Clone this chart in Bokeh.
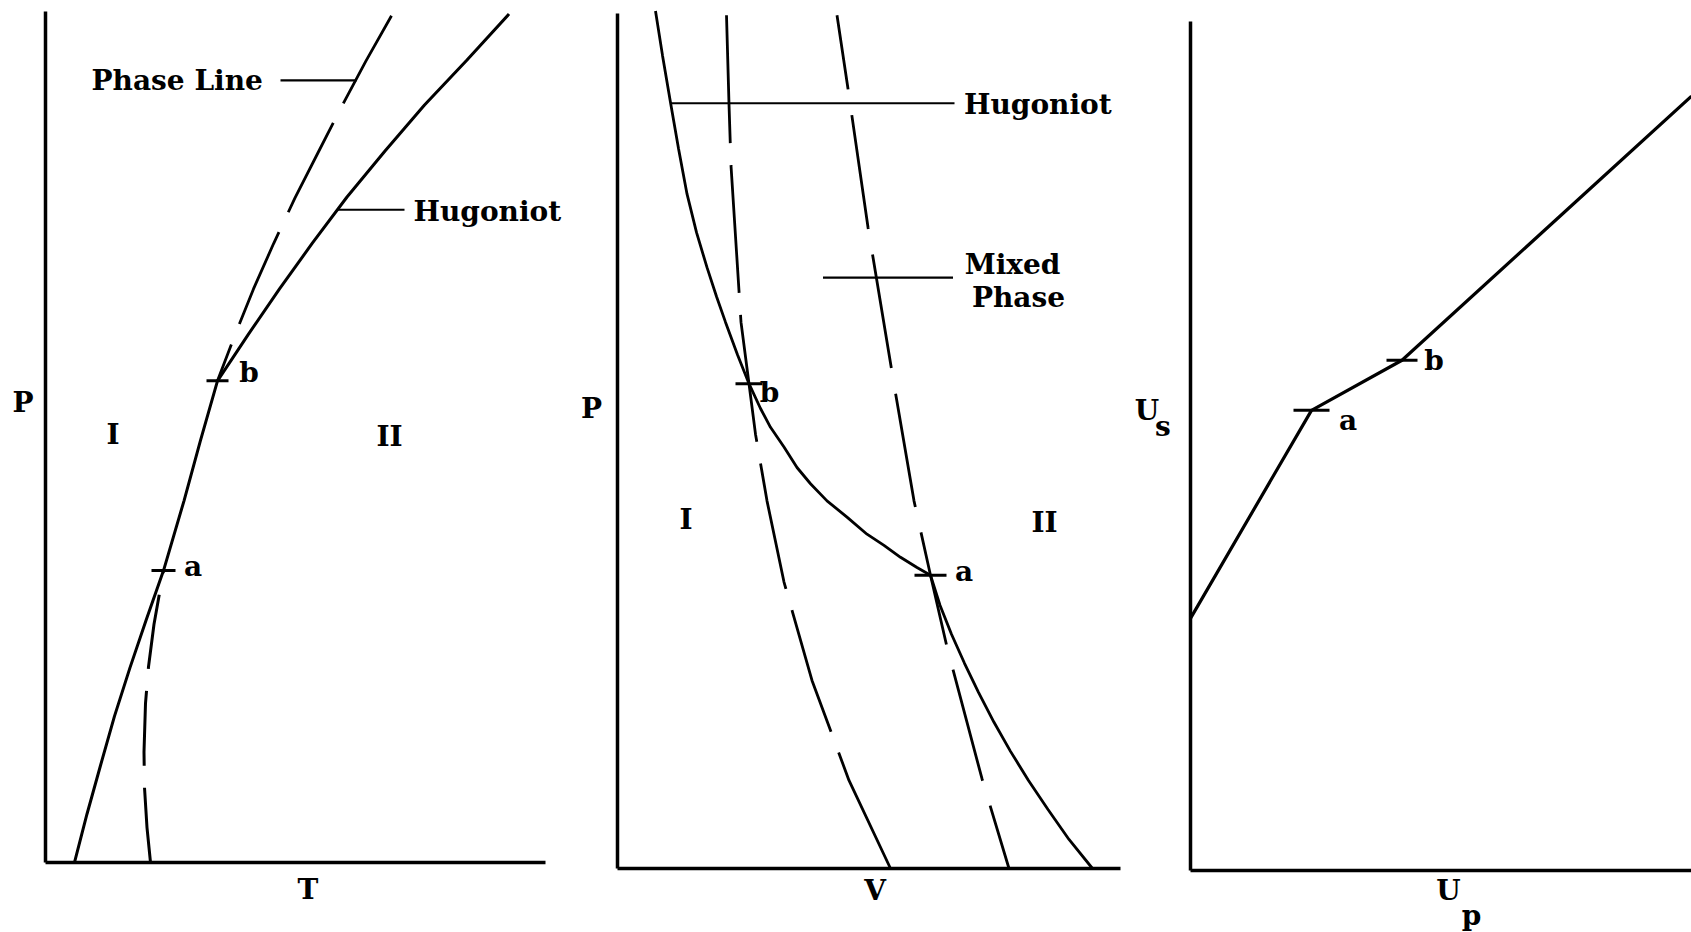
from bokeh.plotting import figure
from bokeh.layouts import row
from bokeh.models import Range1d, FixedTicker, Label
from bokeh.embed import file_html
from bokeh.resources import INLINE

# ---------------- P-T plane ----------------
pt_hugoniot_T = [0.58, 0.83, 1.10, 1.38, 1.69, 2.02, 2.36, 2.77, 3.10, 3.44,
                 4.05, 4.68, 5.34, 6.03, 6.79, 7.58, 8.43, 9.27]
pt_hugoniot_P = [0.00, 0.57, 1.14, 1.72, 2.29, 2.86, 3.43, 4.25, 4.96, 5.66,
                 6.20, 6.74, 7.28, 7.82, 8.36, 8.90, 9.43, 9.97]
# phase line below point a and above point b (between a and b it follows the Hugoniot)
pt_phase_low_T = [2.10, 2.03, 1.98, 1.97, 2.00, 2.06, 2.17, 2.36]
pt_phase_low_P = [0.00, 0.41, 0.88, 1.30, 1.87, 2.30, 2.80, 3.43]
pt_phase_high_T = [3.44, 3.79, 4.16, 4.56, 4.99, 5.45, 5.92, 6.41, 6.92]
pt_phase_high_P = [5.66, 6.20, 6.74, 7.27, 7.81, 8.34, 8.88, 9.42, 9.95]
pt_a = (2.36, 3.43)
pt_b = (3.44, 5.66)

# ---------------- P-V plane ----------------
pv_hugoniot_V = [0.76, 0.90, 1.06, 1.22, 1.39, 1.58, 1.79, 1.98, 2.16, 2.40, 2.63,
                 2.86, 3.06, 3.33, 3.59, 3.86, 4.19, 4.59, 4.99, 5.33, 5.66, 5.99, 6.26,
                 6.45, 6.68, 6.94, 7.22, 7.53, 7.86, 8.22, 8.61, 9.03, 9.50]
pv_hugoniot_P = [10.03, 9.51, 8.96, 8.42, 7.89, 7.44, 7.03, 6.69, 6.39, 6.01, 5.67,
                 5.38, 5.16, 4.93, 4.69, 4.50, 4.30, 4.11, 3.91, 3.78, 3.64, 3.52, 3.43,
                 3.08, 2.74, 2.40, 2.06, 1.71, 1.37, 1.03, 0.69, 0.34, 0.00]
pv_bound1_V = [2.18, 2.23, 2.27, 2.47, 2.63, 2.76, 2.99, 3.33, 3.89, 4.63, 5.46]
pv_bound1_P = [9.98, 8.94, 8.22, 6.39, 5.67, 5.08, 4.30, 3.35, 2.20, 1.03, 0.00]
pv_bound2_V = [4.39, 4.61, 5.01, 5.54, 5.93, 6.26, 6.59, 7.29, 7.83]
pv_bound2_P = [9.98, 9.12, 7.50, 5.63, 4.30, 3.43, 2.59, 1.05, 0.00]
pv_a = (6.26, 3.43)
pv_b = (2.63, 5.67)

# ---------------- Us-Up plane ----------------
up_values = [0.00, 2.42, 4.23, 10.02]
us_values = [2.97, 5.42, 6.01, 9.12]
us_a = (2.42, 5.42)
us_b = (4.23, 6.01)

FONT = "DejaVu Serif"
INK = "black"
SIZE = 28


def panel(width, xr, yr, x_end, y_end):
    p = figure(width=width, height=932, x_range=Range1d(*xr), y_range=Range1d(*yr),
               output_backend="svg", toolbar_location=None,
               min_border_left=0, min_border_right=0,
               min_border_top=0, min_border_bottom=0)
    p.grid.visible = False
    p.outline_line_color = None
    p.background_fill_color = "white"
    p.border_fill_color = "white"
    for ax in p.axis:
        ax.fixed_location = 0
        ax.ticker = FixedTicker(ticks=[])
        ax.major_tick_line_color = None
        ax.minor_tick_line_color = None
        ax.major_tick_out = 0
        ax.major_tick_in = 0
        ax.minor_tick_out = 0
        ax.minor_tick_in = 0
        ax.major_label_text_font_size = "0px"
        ax.major_label_standoff = 0
        ax.axis_line_width = 3.5
        ax.axis_line_color = INK
    p.xaxis.bounds = (0, x_end)
    p.yaxis.bounds = (0, y_end)
    return p


def txt(p, x, y, s, size=SIZE, align="center"):
    p.add_layout(Label(x=x, y=y, text=s, text_font=FONT, text_font_style="bold",
                       text_font_size=f"{size}px", text_align=align,
                       text_baseline="middle", text_color=INK))


def tick(p, pt, half):
    p.segment(x0=[pt[0] - half], y0=[pt[1]], x1=[pt[0] + half], y1=[pt[1]],
              line_color=INK, line_width=3)


# P-T
p1 = panel(580, (-0.90, 10.70), (-0.8226, 10.129), 10.0, 10.0)
p1.line(pt_hugoniot_T, pt_hugoniot_P, line_color=INK, line_width=3)
p1.line(pt_phase_low_T, pt_phase_low_P, line_color=INK, line_width=3, line_dash="75 22")
p1.line(pt_phase_high_T[::-1], pt_phase_high_P[::-1], line_color=INK, line_width=2.8,
        line_dash="100 22")
tick(p1, pt_a, 0.24)
tick(p1, pt_b, 0.22)
p1.segment(x0=[4.70, 5.84], y0=[9.19, 7.67], x1=[6.22, 7.18], y1=[9.19, 7.67],
           line_color=INK, line_width=2.2)
txt(p1, 0.92, 9.19, "Phase Line", align="left")
txt(p1, 7.36, 7.65, "Hugoniot", align="left")
txt(p1, 2.95, 3.48, "a")
txt(p1, 4.07, 5.76, "b")
txt(p1, 1.35, 5.03, "I")
txt(p1, 6.88, 5.01, "II")
txt(p1, -0.45, 5.41, "P")
txt(p1, 5.25, -0.32, "T")

# P-V
p2 = panel(548, (-0.74, 10.22), (-0.7485, 10.152), 10.06, 10.0)
p2.line(pv_hugoniot_V, pv_hugoniot_P, line_color=INK, line_width=2.8)
p2.line(pv_bound1_V, pv_bound1_P, line_color=INK, line_width=2.8, line_dash="128 22")
p2.line(pv_bound2_V, pv_bound2_P, line_color=INK, line_width=2.8, line_dash="115 26",
        line_dash_offset=40)
tick(p2, pv_a, 0.32)
tick(p2, pv_b, 0.27)
p2.segment(x0=[1.05, 4.11], y0=[8.95, 6.91], x1=[6.74, 6.71], y1=[8.95, 6.91],
           line_color=INK, line_width=2.2)
txt(p2, 6.93, 8.94, "Hugoniot", align="left")
txt(p2, 7.90, 7.06, "Mixed")
txt(p2, 8.02, 6.68, "Phase")
txt(p2, 6.93, 3.47, "a")
txt(p2, 3.04, 5.57, "b")
txt(p2, 1.37, 4.08, "I")
txt(p2, 8.54, 4.05, "II")
txt(p2, -0.52, 5.38, "P")
txt(p2, 5.15, -0.26, "V")

# Us-Up
p3 = panel(563, (-1.24, 10.02), (-0.730, 10.247), 10.02, 10.0)
p3.line(up_values, us_values, line_color=INK, line_width=3.2)
tick(p3, us_a, 0.36)
tick(p3, us_b, 0.31)
txt(p3, 3.15, 5.30, "a")
txt(p3, 4.87, 6.01, "b")
txt(p3, -0.87, 5.42, "U")
txt(p3, -0.55, 5.23, "s")
txt(p3, 5.16, -0.24, "U")
txt(p3, 5.62, -0.53, "p")

layout = row(p1, p2, p3)
open("out.html", "w").write(file_html(layout, INLINE))
